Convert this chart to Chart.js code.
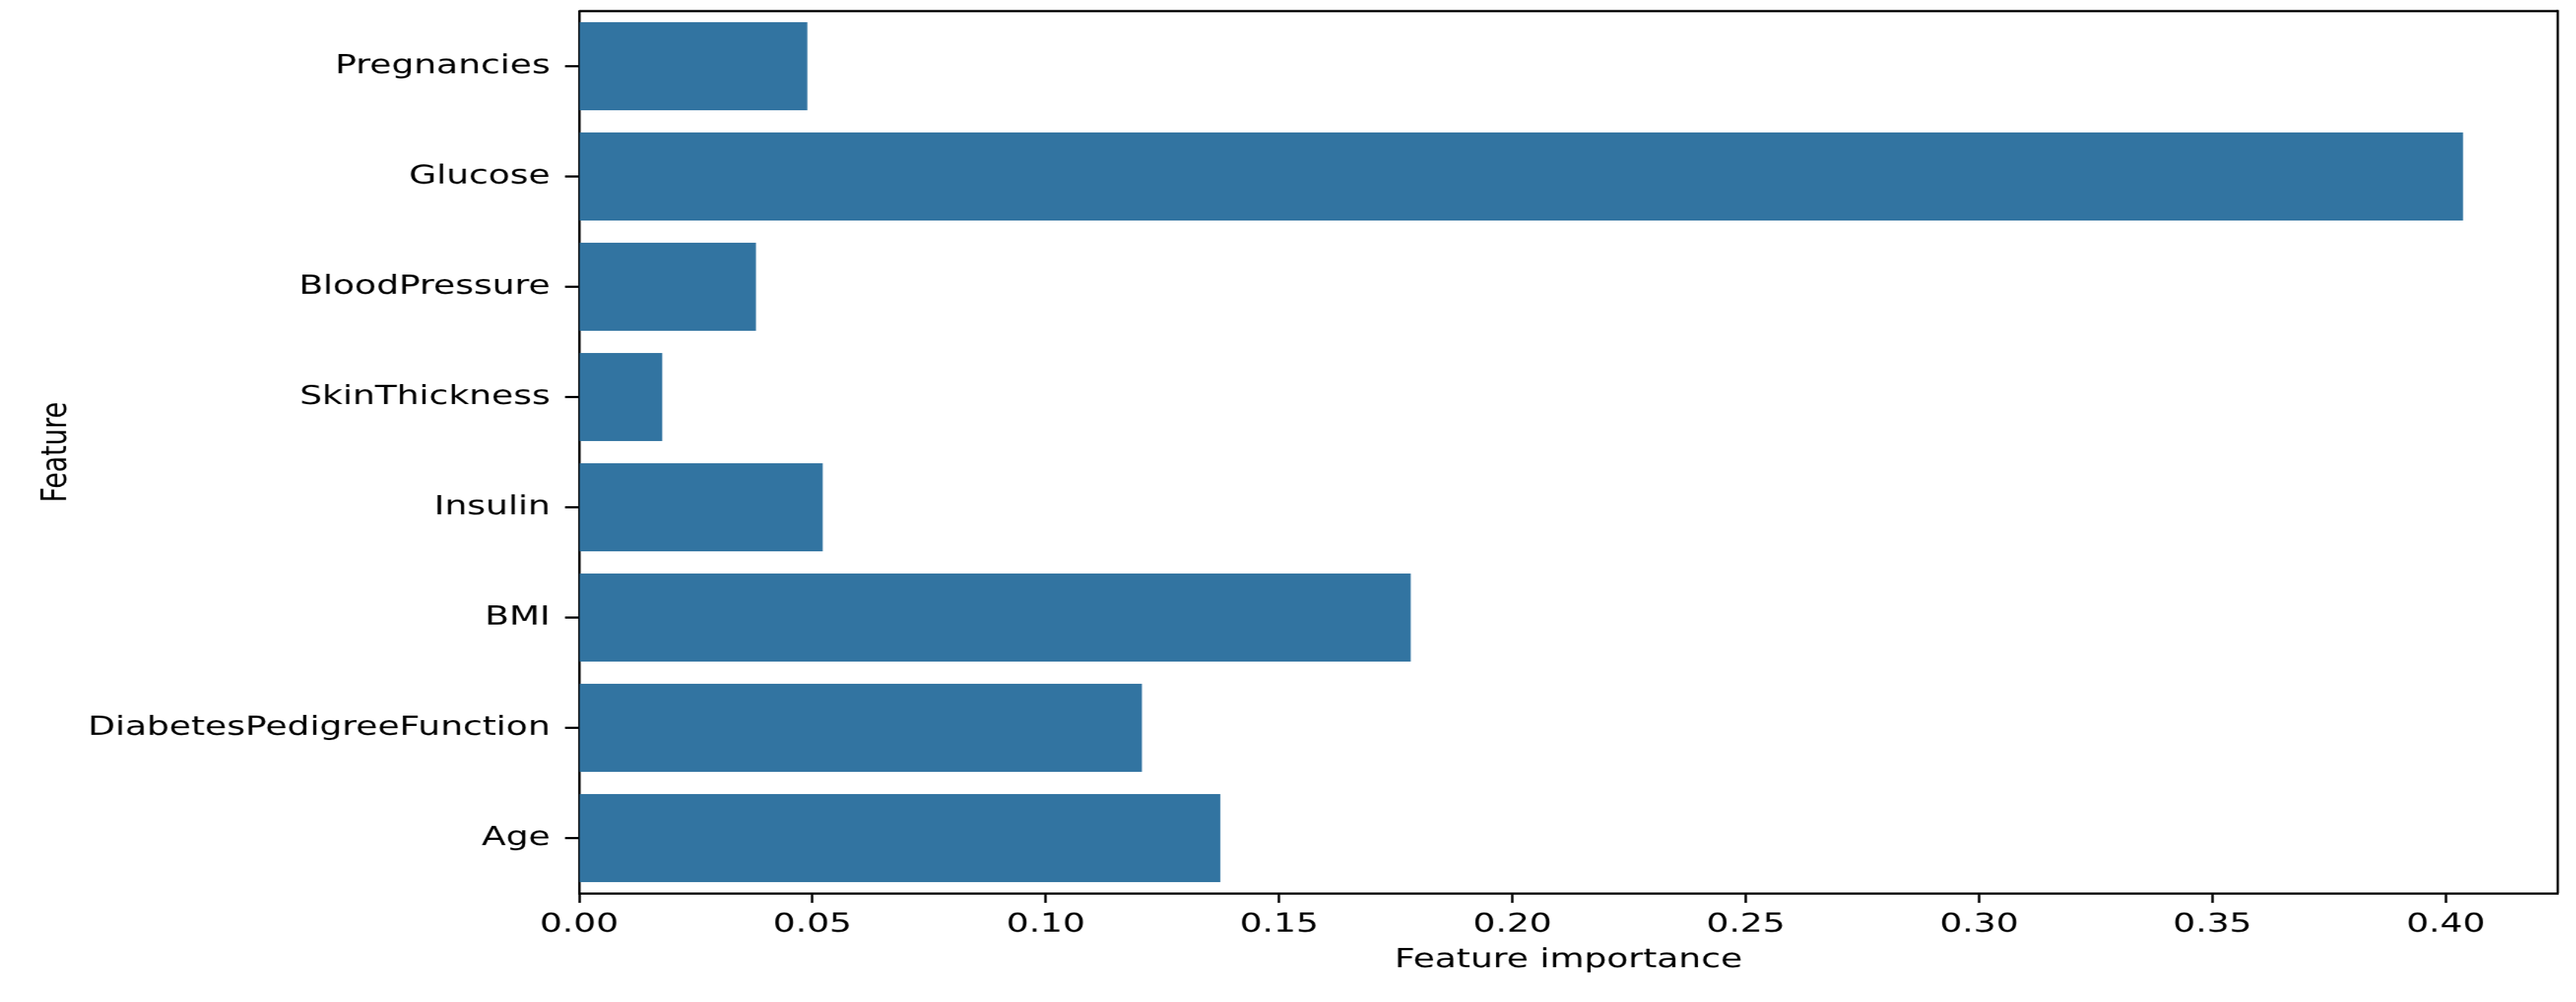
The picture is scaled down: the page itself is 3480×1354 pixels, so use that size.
<!DOCTYPE html>
<html>
<head>
<meta charset="utf-8">
<script src="https://cdn.jsdelivr.net/npm/chart.js@4.4.1/dist/chart.umd.min.js"></script>
<style>
  html, body { margin: 0; padding: 0; background: #fff; overflow: hidden; }
  /* the reference is stretched sideways, so draw narrower and stretch */
  #wrap { width: 2616.5px; height: 1354px; transform: scaleX(1.33); transform-origin: 0 0; }
</style>
</head>
<body>
<div id="wrap"><canvas id="chart"></canvas></div>
<script>
'use strict';

const features = ['Pregnancies', 'Glucose', 'BloodPressure', 'SkinThickness',
                  'Insulin', 'BMI', 'DiabetesPedigreeFunction', 'Age'];
const importance = [0.0489, 0.4037, 0.0379, 0.0178, 0.0522, 0.1782, 0.1206, 0.1374];
const xTicks = [0, 0.05, 0.10, 0.15, 0.20, 0.25, 0.30, 0.35, 0.40];
const xMax = 0.424;

const barColor = '#3274a1';
const fontFamily = '"DejaVu Sans", sans-serif';

// matplotlib style box: draw top and right spines too
const boxPlugin = {
    id: 'box',
    afterDraw(chart) {
        const { ctx, chartArea: a } = chart;
        ctx.save();
        ctx.strokeStyle = '#000';
        ctx.lineWidth = 3;
        ctx.beginPath();
        ctx.moveTo(a.left, a.top);
        ctx.lineTo(a.right, a.top);
        ctx.stroke();
        ctx.lineWidth = 2.5;
        ctx.beginPath();
        ctx.moveTo(a.right, a.top - 1.5);
        ctx.lineTo(a.right, a.bottom);
        ctx.stroke();
        ctx.restore();
    }
};

new Chart(document.getElementById('chart'), {
    type: 'bar',
    data: {
        labels: features,
        datasets: [{
            data: importance,
            backgroundColor: barColor,
            borderWidth: 0,
            barPercentage: 0.8,
            categoryPercentage: 1.0,
        }]
    },
    options: {
        indexAxis: 'y',
        responsive: true,
        maintainAspectRatio: false,
        animation: false,
        layout: { padding: { top: 15, right: 19.5, left: 0, bottom: 0 } },
        plugins: {
            legend: { display: false },
            tooltip: { enabled: false },
        },
        scales: {
            x: {
                type: 'linear',
                min: 0,
                max: xMax,
                afterBuildTicks: (scale) => { scale.ticks = xTicks.map(v => ({ value: v })); },
                afterFit: (scale) => {
                    scale.height = 147;
                    scale.paddingLeft = 0;
                    scale.paddingRight = 0;
                },
                border: { color: '#000', width: 3 },
                grid: {
                    drawOnChartArea: false,
                    drawTicks: true,
                    tickLength: 13,
                    tickColor: '#000',
                    tickWidth: 2.5,
                },
                ticks: {
                    padding: 8,
                    color: '#000',
                    font: { family: fontFamily, size: 36 },
                    callback: (v) => Number(v).toFixed(2),
                    maxRotation: 0,
                },
                title: {
                    display: true,
                    text: 'Feature importance',
                    color: '#000',
                    font: { family: fontFamily, size: 36 },
                    padding: { top: 0, bottom: 35 },
                },
            },
            y: {
                type: 'category',
                offset: true,
                afterFit: (scale) => {
                    scale.width = 588;
                    scale.paddingTop = 0;
                    scale.paddingBottom = 0;
                },
                border: { color: '#000', width: 2.5 },
                grid: {
                    offset: false,
                    drawOnChartArea: false,
                    drawTicks: true,
                    tickLength: 14.3,
                    tickColor: '#000',
                    tickWidth: 3,
                },
                ticks: {
                    padding: 15,
                    color: '#000',
                    font: { family: fontFamily, size: 36 },
                },
                title: {
                    display: true,
                    text: 'Feature',
                    color: '#000',
                    font: { family: fontFamily, size: 36 },
                    padding: { top: 36, bottom: 0 },
                },
            },
        },
    },
    plugins: [boxPlugin],
});
</script>
</body>
</html>
